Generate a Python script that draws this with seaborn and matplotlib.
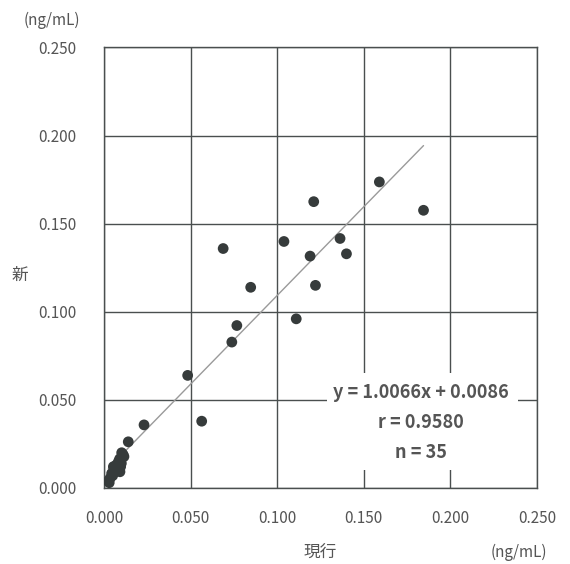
import numpy as np
import pandas as pd
import matplotlib
matplotlib.use("Agg")
import matplotlib.pyplot as plt
from matplotlib.patches import Rectangle
import seaborn as sns

# Data
current = [0.159, 0.1211, 0.1845, 0.0688, 0.1039, 0.1363, 0.1190, 0.1400,
           0.0847, 0.1221, 0.1110, 0.0767, 0.0738, 0.0483, 0.0564, 0.0231,
           0.0140,
           0.0102, 0.0110, 0.0115, 0.0090, 0.0083, 0.0100, 0.0096, 0.0070,
           0.0054, 0.0063, 0.0080, 0.0063, 0.0092, 0.0044, 0.0050, 0.0035,
           0.0025, 0.0030]
new = [0.1737, 0.1625, 0.1576, 0.1359, 0.1399, 0.1416, 0.1316, 0.1329,
       0.1139, 0.1150, 0.0960, 0.0922, 0.0828, 0.0639, 0.0379, 0.0358,
       0.0262,
       0.0200, 0.0190, 0.0178, 0.0165, 0.0149, 0.0140, 0.0121, 0.0130,
       0.0121, 0.0105, 0.0100, 0.0092, 0.0092, 0.0083, 0.0070, 0.0055,
       0.0040, 0.0030]
slope = 1.0066
intercept = 0.0086
r_value = 0.9580
n_value = 35
ticks = [0.000, 0.050, 0.100, 0.150, 0.200, 0.250]
tick_labels = ["0.000", "0.050", "0.100", "0.150", "0.200", "0.250"]

sns.set_theme(style="white")
plt.rcParams['font.family'] = ['Noto Sans CJK JP', 'DejaVu Sans']

df = pd.DataFrame({"x": current, "y": new})
line_x = np.array([min(current), max(current)])
line_df = pd.DataFrame({"x": line_x, "y": slope * line_x + intercept})

fig = plt.figure(figsize=(5.7, 5.64), dpi=100)
ax = fig.add_axes([0.1825, 0.1348, 0.942 - 0.1825, 0.9158 - 0.1348])

grid_c = "#4a4f4f"
text_c = "#555555"

ax.set_xlim(0, 0.25)
ax.set_ylim(0, 0.25)
ax.set_xticks(ticks)
ax.set_yticks(ticks)
ax.set_xticklabels(tick_labels)
ax.set_yticklabels(tick_labels)
ax.grid(True, color=grid_c, linewidth=1.0)
ax.set_axisbelow(True)
for s in ax.spines.values():
    s.set_color(grid_c)
    s.set_linewidth(1.0)
ax.tick_params(axis='both', length=0, labelsize=11, colors=text_c)
ax.tick_params(axis='y', pad=20)
ax.tick_params(axis='x', pad=16)

sns.lineplot(data=line_df, x="x", y="y", ax=ax, color="#9a9a9a", linewidth=1.0, zorder=3)
sns.scatterplot(data=df, x="x", y="y", ax=ax, color="#363b3b", s=60,
                edgecolor="none", zorder=4)

ax.set_xlabel("")
ax.set_ylabel("")

fig.text(320 / 570, 1 - 552 / 564, "現行", ha="center", va="center", fontsize=12, color=text_c)
fig.text(519 / 570, 1 - 552 / 564, "(ng/mL)", ha="center", va="center", fontsize=11, color=text_c)
fig.text(52 / 570, 1 - 20 / 564, "(ng/mL)", ha="center", va="center", fontsize=11, color=text_c)
fig.text(20 / 570, 1 - 275 / 564, "新", ha="center", va="center", fontsize=12, color=text_c)

# white box behind the annotation
ax.add_patch(Rectangle((0.1286, 0.0102), 0.2388 - 0.1286, 0.0652 - 0.0102,
                       facecolor="white", edgecolor="none", zorder=2.5))
bx = 0.1832
for yy, txt in [(0.0540, f"y = {slope:.4f}x + {intercept:.4f}"),
                (0.0370, f"r = {r_value:.4f}"),
                (0.0202, f"n = {n_value}")]:
    ax.text(bx, yy, txt, ha="center", va="center", fontsize=13,
            color=text_c, fontweight="bold", zorder=5)

fig.savefig("out.png", dpi=100)
